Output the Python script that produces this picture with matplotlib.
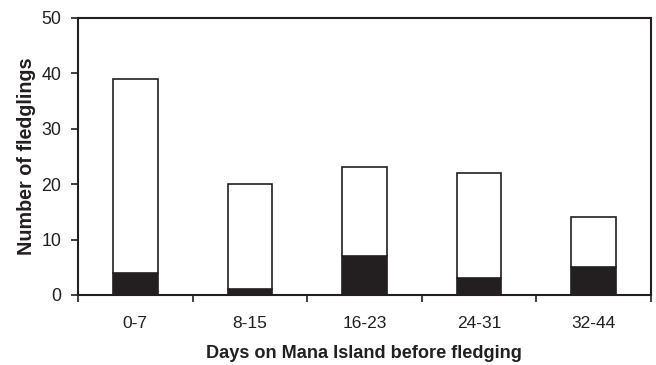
import matplotlib
matplotlib.use("Agg")
import matplotlib.pyplot as plt
import numpy as np

categories = ["0-7", "8-15", "16-23", "24-31", "32-44"]
black_vals = [4, 1, 7, 3, 5]
total_vals = [39, 20, 23, 22, 14]

plt.rcParams['font.family'] = ['Liberation Sans', 'DejaVu Sans']

fig = plt.figure(figsize=(6.56, 3.65), dpi=100)
ax = fig.add_axes([0.119, 0.192, 0.873, 0.759])

x = np.arange(len(categories)) + 0.5
white_vals = [t - b for t, b in zip(total_vals, black_vals)]
w = 0.39
ax.bar(x, black_vals, width=w, color='#231f20', edgecolor='#231f20', linewidth=1.2)
ax.bar(x, white_vals, bottom=black_vals, width=w, color='white', edgecolor='#231f20', linewidth=1.2)

ax.set_xlim(0, len(categories))
ax.set_ylim(0, 50)
ax.set_yticks(range(0, 51, 10))
ax.set_xticks(np.arange(len(categories) + 1))
ax.set_xticklabels([])
ax.set_xticks(x, minor=True)
ax.set_xticklabels(categories, minor=True)
ax.tick_params(axis='x', which='minor', length=0, pad=15, labelsize=12.5, colors='#231f20')
ax.tick_params(axis='x', which='major', length=5, width=1.2, direction='out', color='#231f20')
ax.tick_params(axis='y', length=5, width=1.2, direction='out', labelsize=12.8, color='#231f20', labelcolor='#231f20', pad=7)

for s in ax.spines.values():
    s.set_linewidth(1.5)
    s.set_color('#231f20')

ax.set_xlabel("Days on Mana Island before fledging", fontsize=13.1, fontweight='bold', labelpad=10, color='#231f20')
ax.set_ylabel("Number of fledglings", fontsize=14.2, fontweight='bold', labelpad=4, color='#231f20')

fig.savefig("out.png", dpi=100)
